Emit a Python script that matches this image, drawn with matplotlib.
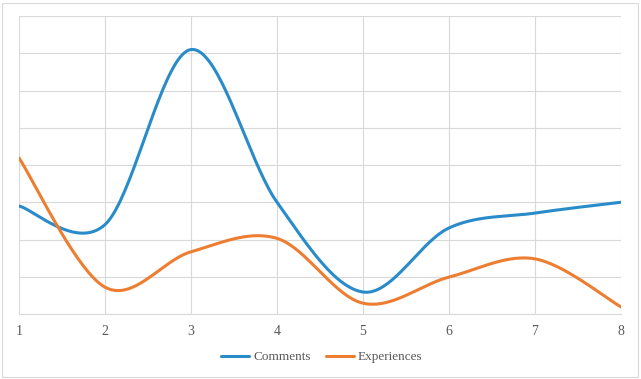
import numpy as np
import matplotlib
matplotlib.use("Agg")
import matplotlib.pyplot as plt
from matplotlib.patches import FancyBboxPatch

categories = [1, 2, 3, 4, 5, 6, 7, 8]
comments = [2.9, 2.4, 7.1, 3.0, 0.59, 2.31, 2.71, 3.0]
experiences = [4.19, 0.72, 1.67, 2.03, 0.29, 0.99, 1.48, 0.19]

def smooth(xs, ys, n=40):
    xs = np.asarray(xs, float); ys = np.asarray(ys, float)
    px = np.concatenate([[xs[0]], xs, [xs[-1]]])
    py = np.concatenate([[ys[0]], ys, [ys[-1]]])
    ox, oy = [], []
    t = np.linspace(0, 1, n)
    for i in range(1, len(px) - 2):
        p0 = np.array([px[i], py[i]]); p3 = np.array([px[i+1], py[i+1]])
        c1 = p0 + (np.array([px[i+1], py[i+1]]) - np.array([px[i-1], py[i-1]])) / 6
        c2 = p3 - (np.array([px[i+2], py[i+2]]) - np.array([px[i], py[i]])) / 6
        b = ((1-t)**3)[:, None]*p0 + (3*(1-t)**2*t)[:, None]*c1 + (3*(1-t)*t**2)[:, None]*c2 + (t**3)[:, None]*p3
        ox.extend(b[:, 0]); oy.extend(b[:, 1])
    return np.array(ox), np.array(oy)

W, H = 641, 379
fig = plt.figure(figsize=(W/100, H/100), dpi=100)
fig.patches.append(FancyBboxPatch((2/W, 2/H), 636/W, 374/H, boxstyle="square,pad=0",
                                  transform=fig.transFigure, fill=False, edgecolor="#d9d9d9", lw=0.8))
ax = fig.add_axes([19/W, 1 - 314/H, (621-19)/W, (314-16)/H])
grid = "#d9d9d9"
for s in ax.spines.values():
    s.set_visible(False)
ax.spines["bottom"].set_visible(True)
ax.spines["bottom"].set_color(grid)
ax.set_xlim(1, 8)
ax.set_ylim(0, 8)
ax.set_yticks(np.arange(0, 9, 1))
ax.set_xticks(categories)
ax.set_xticklabels([str(c) for c in categories], family="Liberation Serif", fontsize=10, color="#595959")
ax.tick_params(axis="x", length=0, pad=8)
ax.tick_params(axis="y", length=0, labelleft=False)
ax.grid(True, color=grid, lw=0.8)
ax.set_axisbelow(True)

bx, by = smooth(categories, comments)
l1, = ax.plot(bx, by, color="#2A8BC9", lw=2.2, label="Comments", solid_capstyle="round")
ox, oy = smooth(categories, experiences)
l2, = ax.plot(ox, oy, color="#ED7D31", lw=2.2, label="Experiences", solid_capstyle="round")

fig.legend(handles=[l1, l2], loc="center", bbox_to_anchor=(322/W, 1 - 357/H), ncol=2, frameon=False,
           prop={"family": "Liberation Serif", "size": 9.5}, labelcolor="#595959",
           handlelength=2.1, columnspacing=1.2, handletextpad=0.3)
fig.savefig("out.png", dpi=100)
